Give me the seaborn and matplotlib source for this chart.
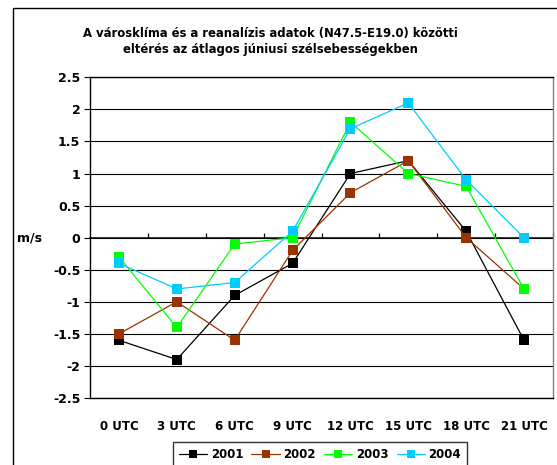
import matplotlib
matplotlib.use("Agg")
import matplotlib.pyplot as plt
import seaborn as sns
import pandas as pd
from matplotlib.patches import Rectangle

categories = ["0 UTC", "3 UTC", "6 UTC", "9 UTC", "12 UTC", "15 UTC", "18 UTC", "21 UTC"]
years = ["2001", "2002", "2003", "2004"]
v2001 = [-1.6, -1.9, -0.9, -0.4, 1.0, 1.2, 0.1, -1.6]
v2002 = [-1.5, -1.0, -1.6, -0.2, 0.7, 1.2, 0.0, -0.8]
v2003 = [-0.3, -1.4, -0.1, 0.0, 1.8, 1.0, 0.8, -0.8]
v2004 = [-0.4, -0.8, -0.7, 0.1, 1.7, 2.1, 0.9, 0.0]
colors = ["#000000", "#993300", "#00FF00", "#00CCFF"]

rows = []
for y, vals in zip(years, [v2001, v2002, v2003, v2004]):
    for i, v in enumerate(vals):
        rows.append({"pos": i, "cat": categories[i], "year": y, "value": v})
df = pd.DataFrame(rows)

sns.set_theme(style="white")
plt.rcParams["font.family"] = ["DejaVu Sans"]
plt.rcParams["font.weight"] = "bold"
for k in ["text.color", "axes.labelcolor", "xtick.color", "ytick.color"]:
    plt.rcParams[k] = "black"

fig = plt.figure(figsize=(5.57, 4.65), dpi=100)
ax = fig.add_axes([90/557, 67/465, 463/557, 320.7/465])

sns.lineplot(data=df, x="pos", y="value", hue="year", palette=colors,
             marker="s", markersize=7.5, markeredgewidth=0, linewidth=0.9,
             ax=ax, legend=False, zorder=3)

ax.set_xlim(-0.5, 7.5)
ax.set_ylim(-2.5, 2.5)
ax.set_yticks([-2.5, -2, -1.5, -1, -0.5, 0, 0.5, 1, 1.5, 2, 2.5])
ax.set_yticklabels(["-2.5", "-2", "-1.5", "-1", "-0.5", "0", "0.5", "1", "1.5", "2", "2.5"],
                   fontsize=9, fontweight="bold")
ax.set_xticks(range(len(categories)))
ax.set_xticklabels(categories, fontsize=8.5, fontweight="bold")
ax.tick_params(axis="x", length=0, pad=16, colors="black")
ax.tick_params(axis="y", length=4, width=0.8, direction="out", pad=3, colors="black", left=True)
ax.yaxis.grid(True, color="black", linewidth=0.8)
ax.set_axisbelow(True)
ax.set_xlabel("")
ax.set_ylabel("m/s", rotation=0, fontsize=9, fontweight="bold", va="center", ha="center")
ax.yaxis.set_label_coords(-60/463, 0.5)

for s in ["left", "bottom", "top"]:
    ax.spines[s].set_color("black")
    ax.spines[s].set_linewidth(1.0)
ax.spines["right"].set_color("#808080")
ax.spines["right"].set_linewidth(1.0)

sec = ax.secondary_xaxis(0.5)
sec.set_xticks([0.5 + i for i in range(len(categories))])
sec.set_xticklabels([])
sec.tick_params(axis="x", direction="out", length=3.5, width=0.9, colors="black")
sec.spines["bottom"].set_color("black")
sec.spines["bottom"].set_linewidth(1.0)

handles = [plt.Line2D([], [], color=c, marker="s", markersize=6, markeredgewidth=0, linewidth=0.9)
           for c in colors]
leg = fig.legend(handles, years, loc="upper center", bbox_to_anchor=(320/557, 1 - 442/465),
                 ncol=4, frameon=True, prop={"weight": "bold", "size": 8.5},
                 handlelength=2.4, handletextpad=0.3, columnspacing=0.7, borderpad=0.5,
                 fancybox=False, borderaxespad=0)
leg.get_frame().set_edgecolor("black")
leg.get_frame().set_linewidth(1.0)

fig.text(270/557, 1 - 33/465, "A városklíma és a reanalízis adatok (N47.5-E19.0) közötti",
         ha="center", va="center", fontsize=8.4, fontweight="bold")
fig.text(270/557, 1 - 50/465, "eltérés az átlagos júniusi szélsebességekben",
         ha="center", va="center", fontsize=8.4, fontweight="bold")

fig.patches.append(Rectangle((12.5/557, -0.1), 1.2, (465 - 8.5)/465 + 0.1,
                             transform=fig.transFigure, fill=False, edgecolor="black",
                             linewidth=1.0, clip_on=False))

fig.savefig("out.png", dpi=100)
